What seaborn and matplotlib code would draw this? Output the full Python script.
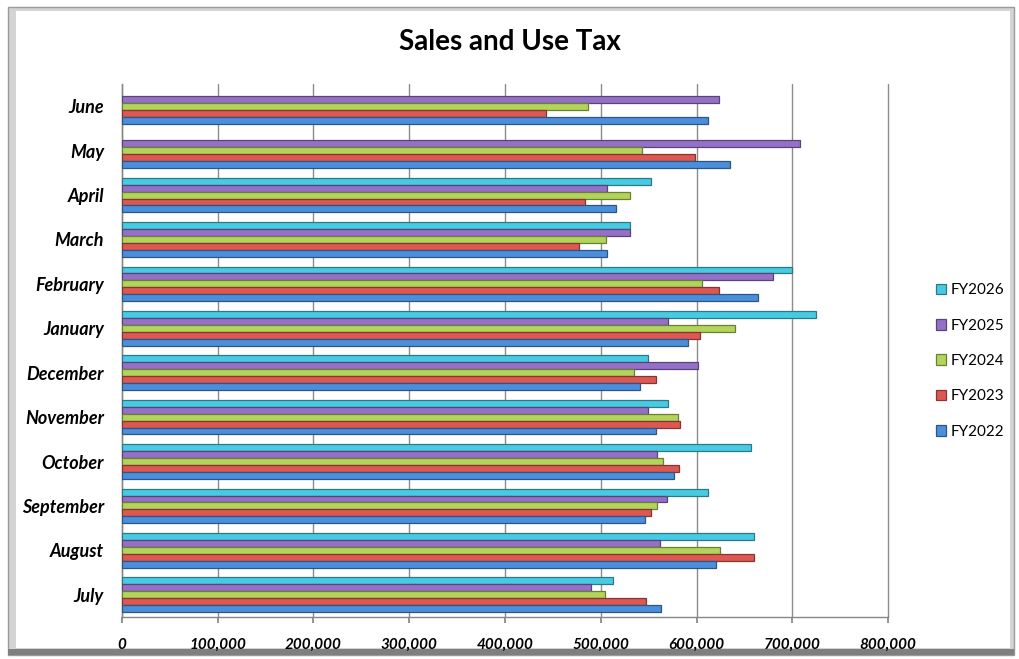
import matplotlib
matplotlib.use("Agg")
import matplotlib.pyplot as plt
import matplotlib.colors as mcolors
from matplotlib.patches import Rectangle
from matplotlib.ticker import FuncFormatter, MultipleLocator
import seaborn as sns
import pandas as pd
import numpy as np

months = ["June", "May", "April", "March", "February", "January", "December",
          "November", "October", "September", "August", "July"]
series = ["FY2026", "FY2025", "FY2024", "FY2023", "FY2022"]

fy2026 = [np.nan, np.nan, 552000, 531000, 700000, 724500, 549000, 570000, 656500, 611600, 660400, 513000]
fy2025 = [623000, 708500, 507000, 531000, 679500, 570000, 602000, 549000, 559000, 569000, 561400, 489400]
fy2024 = [486600, 543000, 531000, 505000, 606000, 639800, 535000, 581000, 564600, 558300, 625000, 504000]
fy2023 = [443000, 598000, 484000, 477000, 623000, 604000, 558000, 583000, 582000, 552800, 659700, 546800]
fy2022 = [611600, 634600, 516000, 507000, 663800, 590700, 540500, 558000, 577000, 546500, 620000, 563000]

values = {"FY2026": fy2026, "FY2025": fy2025, "FY2024": fy2024, "FY2023": fy2023, "FY2022": fy2022}
colors = {"FY2026": "#48cbe2", "FY2025": "#9470c6", "FY2024": "#b3d45a",
          "FY2023": "#de5853", "FY2022": "#4b8fdc"}

rows = []
for s in series:
    for m, v in zip(months, values[s]):
        rows.append({"Month": m, "Series": s, "Value": v})
df = pd.DataFrame(rows)

sns.set_theme(style="white")
plt.rcParams["font.family"] = ["Lato", "DejaVu Sans"]
plt.rcParams["text.color"] = "black"
plt.rcParams["xtick.color"] = "black"
plt.rcParams["ytick.color"] = "black"

fig = plt.figure(figsize=(10.2, 6.59), dpi=100)
W, H = 1020, 659

# chart frame
fig.patches.append(Rectangle((8 / W, 4 / H), 1006 / W, 648 / H, transform=fig.transFigure,
                             facecolor="#d4d4d4", edgecolor="#9a9a9a", linewidth=1, zorder=-3))
fig.patches.append(Rectangle((8 / W, 4 / H), 1006 / W, 6 / H, transform=fig.transFigure,
                             facecolor="#7f7f7f", edgecolor="none", zorder=-2))
fig.patches.append(Rectangle((16 / W, 11 / H), 994 / W, 637 / H, transform=fig.transFigure,
                             facecolor="white", edgecolor="none", zorder=-1))

ax = fig.add_axes([122 / W, 1 - 617 / H, 766 / W, 533 / H])
ax.set_facecolor("none")

sns.barplot(data=df, x="Value", y="Month", hue="Series", order=months, hue_order=series,
            palette=colors, saturation=1, orient="h", width=0.78, ax=ax, errorbar=None, zorder=3)

for p in ax.patches:
    fc = p.get_facecolor()
    dark = tuple(np.array(mcolors.to_rgb(fc)) * 0.6)
    p.set_edgecolor(dark)
    p.set_linewidth(0.9)

ax.set_xlim(0, 800000)
ax.xaxis.set_major_locator(MultipleLocator(100000))
ax.xaxis.set_major_formatter(FuncFormatter(lambda v, p: f"{int(v):,}"))
ax.grid(axis="x", color="#8c8c8c", linewidth=1, zorder=0)
ax.grid(axis="y", visible=False)
ax.set_axisbelow(True)
for gl in ax.get_xgridlines():
    gl.set_clip_on(False)

for sp in ["top", "right"]:
    ax.spines[sp].set_visible(False)
for sp in ["left", "bottom"]:
    ax.spines[sp].set_color("#868686")
    ax.spines[sp].set_linewidth(1)

ax.tick_params(axis="x", length=4, color="#868686", labelcolor="black", pad=11, bottom=True)
ax.tick_params(axis="y", length=0, labelcolor="black", pad=13)
for lab in ax.get_xticklabels():
    lab.set_fontweight("bold")
    lab.set_fontstyle("italic")
    lab.set_fontsize(11)
for lab in ax.get_yticklabels():
    lab.set_fontweight("bold")
    lab.set_fontstyle("italic")
    lab.set_fontsize(13)

ax.set_xlabel("")
ax.set_ylabel("")

fig.text(0.5, 1 - 42 / H, "Sales and Use Tax", ha="center", va="center",
         fontsize=20, fontweight="bold", color="black")

handles, labels = ax.get_legend_handles_labels()
ax.get_legend().remove()
leg = fig.legend(handles, labels, loc="center left", bbox_to_anchor=(922 / W, 1 - 361 / H),
                 frameon=False, fontsize=11, handlelength=0.7, handleheight=0.7,
                 labelspacing=1.4, handletextpad=0.3)
for t in leg.get_texts():
    t.set_color("black")

fig.savefig("out.png", dpi=100)
